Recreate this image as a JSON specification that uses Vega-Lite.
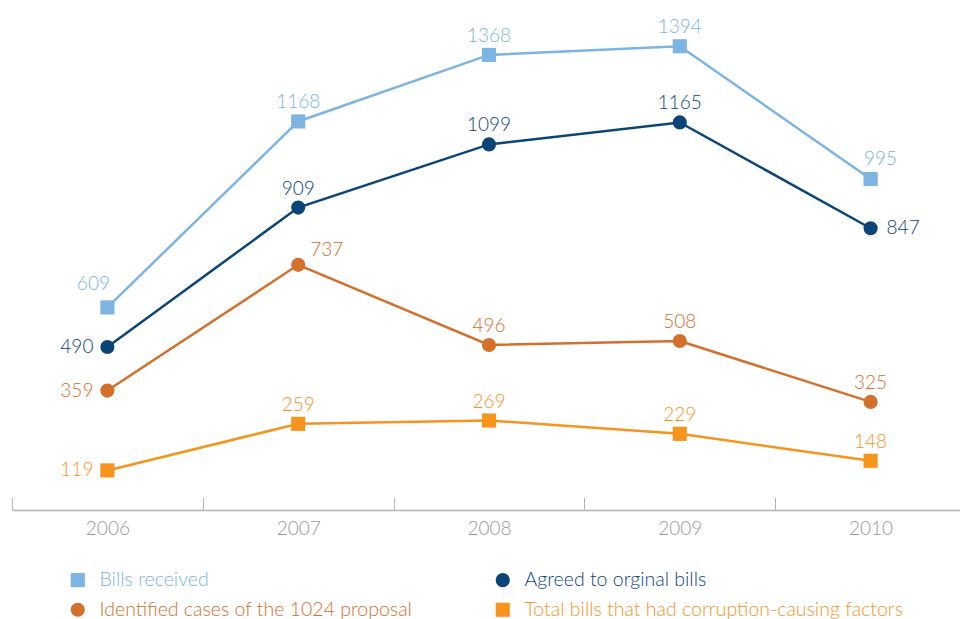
{
  "$schema": "https://vega.github.io/schema/vega-lite/v6.json",
  "width": 954,
  "height": 499,
  "autosize": "none",
  "padding": {"left": 12, "top": 11, "right": 0, "bottom": 109},
  "background": "white",
  "config": {"view": {"stroke": null}, "font": "Lato", "text": {"fontWeight": 300}},
  "data": {
    "values": [
      {"year": "2006", "series": "Bills received", "value": 609},
      {"year": "2007", "series": "Bills received", "value": 1168},
      {"year": "2008", "series": "Bills received", "value": 1368},
      {"year": "2009", "series": "Bills received", "value": 1394},
      {"year": "2010", "series": "Bills received", "value": 995},
      {"year": "2006", "series": "Agreed to orginal bills", "value": 490},
      {"year": "2007", "series": "Agreed to orginal bills", "value": 909},
      {"year": "2008", "series": "Agreed to orginal bills", "value": 1099},
      {"year": "2009", "series": "Agreed to orginal bills", "value": 1165},
      {"year": "2010", "series": "Agreed to orginal bills", "value": 847},
      {"year": "2006", "series": "Identified cases of the 1024 proposal", "value": 359},
      {"year": "2007", "series": "Identified cases of the 1024 proposal", "value": 737},
      {"year": "2008", "series": "Identified cases of the 1024 proposal", "value": 496},
      {"year": "2009", "series": "Identified cases of the 1024 proposal", "value": 508},
      {"year": "2010", "series": "Identified cases of the 1024 proposal", "value": 325},
      {"year": "2006", "series": "Total bills that had corruption-causing factors", "value": 119},
      {"year": "2007", "series": "Total bills that had corruption-causing factors", "value": 259},
      {"year": "2008", "series": "Total bills that had corruption-causing factors", "value": 269},
      {"year": "2009", "series": "Total bills that had corruption-causing factors", "value": 229},
      {"year": "2010", "series": "Total bills that had corruption-causing factors", "value": 148}
    ]
  },
  "encoding": {
    "x": {
      "field": "year", "type": "ordinal",
      "scale": {"type": "band", "paddingInner": 0, "paddingOuter": 0},
      "axis": {
        "title": null, "labelAngle": 0, "tickBand": "extent",
        "domainColor": "#b5b5b5", "domainWidth": 1.5,
        "tickColor": "#b5b5b5", "tickWidth": 1, "tickSize": -13,
        "labelColor": "#9a9a9a", "labelFontSize": 19, "labelPadding": 22,
        "labelFont": "Lato", "labelFontWeight": 300
      }
    },
    "y": {
      "field": "value", "type": "quantitative",
      "scale": {"domain": [0, 1500]},
      "axis": null
    },
    "color": {
      "field": "series", "type": "nominal",
      "scale": {
        "domain": ["Bills received", "Agreed to orginal bills", "Identified cases of the 1024 proposal", "Total bills that had corruption-causing factors"],
        "range": ["#7db4e1", "#0b4578", "#d3702b", "#f7941e"]
      },
      "legend": {
        "title": null, "orient": "none", "legendX": 56, "legendY": 559,
        "direction": "horizontal", "columns": 2, "columnPadding": 80, "rowPadding": 9,
        "symbolSize": 200, "symbolStrokeWidth": 0, "symbolOpacity": 1, "labelFontSize": 19.5, "labelFont": "Lato", "labelFontWeight": 300,
        "labelLimit": 500, "labelOffset": 12,
        "encode": {"labels": {"update": {"fill": {"scale": "color", "field": "value"}}}}
      }
    }
  },
  "layer": [
    {"mark": {"type": "line", "strokeWidth": 2.5}, "encoding": {"detail": {"field": "series"}}},
    {
      "mark": {"type": "point", "filled": true, "opacity": 1, "size": 200},
      "encoding": {
        "shape": {
          "field": "series", "type": "nominal",
          "scale": {
            "domain": ["Bills received", "Agreed to orginal bills", "Identified cases of the 1024 proposal", "Total bills that had corruption-causing factors"],
            "range": ["square", "circle", "circle", "square"]
          },
          "legend": {"title": null}
        }
      }
    },
    {
      "transform": [{"filter": "datum.year != '2006' && !(datum.series == 'Identified cases of the 1024 proposal' && datum.year == '2007') && !(datum.series == 'Agreed to orginal bills' && datum.year == '2010') && !(datum.series == 'Bills received' && datum.year == '2010')"}],
      "mark": {"type": "text", "fontSize": 19, "dy": -13, "align": "center", "baseline": "alphabetic"},
      "encoding": {"text": {"field": "value"}}
    },
    {
      "transform": [{"filter": "datum.series == 'Bills received' && datum.year == '2010'"}],
      "mark": {"type": "text", "fontSize": 19, "dy": -14, "dx": 10, "align": "center", "baseline": "alphabetic"},
      "encoding": {"text": {"field": "value"}}
    },
    {
      "transform": [{"filter": "datum.year == '2006' && datum.series != 'Bills received'"}],
      "mark": {"type": "text", "fontSize": 19, "dx": -14, "align": "right", "baseline": "middle"},
      "encoding": {"text": {"field": "value"}}
    },
    {
      "transform": [{"filter": "datum.year == '2006' && datum.series == 'Bills received'"}],
      "mark": {"type": "text", "fontSize": 19, "dx": -14, "dy": -23, "align": "center", "baseline": "middle"},
      "encoding": {"text": {"field": "value"}}
    },
    {
      "transform": [{"filter": "datum.year == '2007' && datum.series == 'Identified cases of the 1024 proposal'"}],
      "mark": {"type": "text", "fontSize": 19, "dx": 12, "dy": -15, "align": "left", "baseline": "middle"},
      "encoding": {"text": {"field": "value"}}
    },
    {
      "transform": [{"filter": "datum.year == '2010' && datum.series == 'Agreed to orginal bills'"}],
      "mark": {"type": "text", "fontSize": 19, "dx": 16, "align": "left", "baseline": "middle"},
      "encoding": {"text": {"field": "value"}}
    }
  ]
}
